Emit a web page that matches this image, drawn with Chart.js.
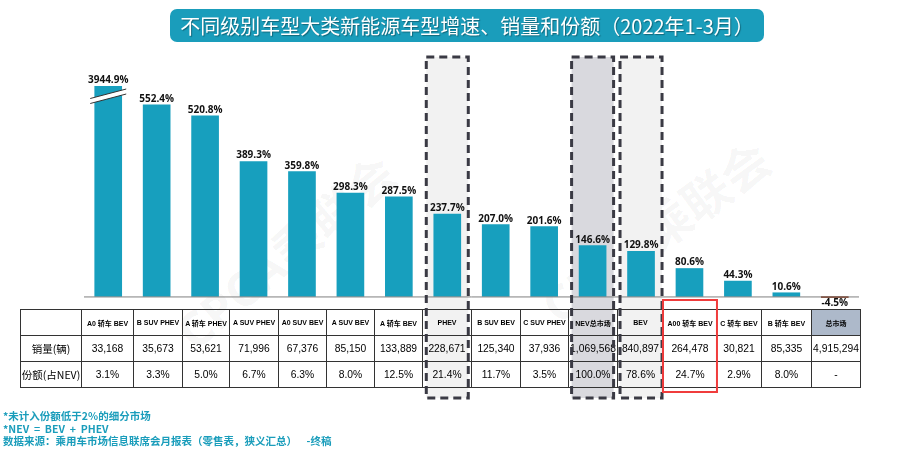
<!DOCTYPE html>
<html>
<head>
<meta charset="utf-8">
<script src="https://cdn.jsdelivr.net/npm/chart.js@4.4.1/dist/chart.umd.min.js"></script>
<style>
  body { margin: 0; background: #fff; }
  #page { position: relative; width: 920px; height: 453px; overflow: hidden; font-family: "Liberation Sans", "Noto Sans CJK SC", sans-serif; }
  #wm { position: absolute; left: 0; top: 0; width: 920px; height: 453px; z-index: 0; }
  .wmtext { position: absolute; font: bold 48px "Open Sans", "Noto Sans CJK SC", sans-serif; color: rgba(0,0,0,0.045); white-space: nowrap; transform-origin: center center; }
  #chart { position: absolute; left: 0; top: 0; z-index: 1; }
  #title { position: absolute; left: 170px; top: 9px; width: 594px; height: 33px; border-radius: 7px; background: #1a9dbb; color: #fff;
           font: 20px "Noto Sans CJK SC", sans-serif; line-height: 33px; text-align: center; text-shadow: 1px 1px 1px rgba(0,0,0,0.35); z-index: 3; }
  #tbl { position: absolute; left: 20px; top: 309px; width: 840px; border-collapse: collapse; table-layout: fixed; z-index: 2; background: transparent; }
  #tbl td { border: 1px solid #333; text-align: center; padding: 0; color: #000; overflow: hidden; white-space: nowrap; }
  #tbl tr.head td { height: 25px; font: bold 7px "Liberation Sans", "Noto Sans CJK SC", sans-serif; }
  #tbl tr.vals td { height: 25px; font: 10.3px "Liberation Sans", "Noto Sans CJK SC", sans-serif; }
  #tbl td.rowlab { font: 10.5px "Noto Sans CJK SC", sans-serif !important; }
  #tbl td.total { background: #adb9ca; }
  #boxes { position: absolute; left: 0; top: 0; z-index: 4; pointer-events: none; }
  #notes { position: absolute; left: 3px; top: 410px; font: bold 10.5px "Noto Sans CJK SC", sans-serif; line-height: 12.5px; color: #1a9dbb; z-index: 3; white-space: nowrap; }
</style>
</head>
<body>
<div id="page">
  <div id="wm">
    <div class="wmtext" style="left:150px; top:215px; transform: rotate(-40deg);">CPCA乘联会</div>
    <div class="wmtext" style="left:520px; top:195px; transform: rotate(-36deg);">CPCA乘联会</div>
  </div>
  <canvas id="chart" width="920" height="453"></canvas>
  <div id="title">不同级别车型大类新能源车型增速、销量和份额（2022年1-3月）</div>
  <table id="tbl"></table>
  <svg id="boxes" width="920" height="453"></svg>
  <div id="notes">
    *未计入份额低于2%的细分市场<br>
    *NEV &nbsp;= &nbsp;BEV &nbsp;+ &nbsp;PHEV<br>
    数据来源：乘用车市场信息联席会月报表（零售表，狭义汇总）&nbsp;&nbsp;&nbsp;&nbsp;-终稿
  </div>
</div>

<script>
// categories (table header)
const categories = ["A0 轿车 BEV", "B SUV PHEV", "A 轿车 PHEV", "A SUV PHEV", "A0 SUV BEV", "A SUV BEV", "A 轿车 BEV",
  "PHEV", "B SUV BEV", "C SUV PHEV", "NEV总市场", "BEV", "A00 轿车 BEV", "C 轿车 BEV", "B 轿车 BEV", "总市场"]

// growth rate, %
const growthRates = [3944.9, 552.4, 520.8, 389.3, 359.8, 298.3, 287.5, 237.7, 207.0, 201.6, 146.6, 129.8, 80.6, 44.3, 10.6, -4.5]

// sales volume (辆)
const salesVolume = [33168, 35673, 53621, 71996, 67376, 85150, 133889, 228671, 125340, 37936, 1069568, 840897, 264478, 30821, 85335, 4915294]

// share of NEV, % (null = no value)
const nevShare = [3.1, 3.3, 5.0, 6.7, 6.3, 8.0, 12.5, 21.4, 11.7, 3.5, 100.0, 78.6, 24.7, 2.9, 8.0, null]

const rowLabels = ["销量(辆)", "份额(占NEV)"]

// highlighted columns
const dashedCols = { "PHEV": "#f2f2f2", "NEV总市场": "#d9d9de", "BEV": "#f2f2f2" }
const redCol = "A00 轿车 BEV"
const totalCol = "总市场"

const colWidths = [61, 52, 49, 47, 49, 48, 48, 48, 49, 49, 48, 49, 46, 53, 45, 50, 49]
const boxTop = 57
const boxBottom = 398

// build table
const tbl = document.getElementById("tbl")
let html = "<colgroup>" + colWidths.map(w => '<col style="width:' + w + 'px">').join("") + "</colgroup>"
html += '<tr class="head"><td></td>' + categories.map(c => '<td' + (c == totalCol ? ' class="total"' : '') + '>' + c + '</td>').join("") + "</tr>"
html += '<tr class="vals"><td class="rowlab">' + rowLabels[0] + '</td>' + salesVolume.map(v => "<td>" + v.toLocaleString("en-US") + "</td>").join("") + "</tr>"
html += '<tr class="vals"><td class="rowlab">' + rowLabels[1] + '</td>' + nevShare.map(v => "<td>" + (v == null ? "-" : v.toFixed(1) + "%") + "</td>").join("") + "</tr>"
tbl.innerHTML = html

const BAR_COLOR = "#179fbe"
const NEG_COLOR = "#8b3a1e"

// gray column fills behind bars and table
const columnFills = {
  id: "columnFills",
  beforeDatasetsDraw(chart) {
    const ctx = chart.ctx
    const x = chart.scales.x
    ctx.save()
    categories.forEach((c, i) => {
      if (dashedCols[c]) {
        const cx = x.getPixelForValue(i)
        ctx.fillStyle = dashedCols[c]
        ctx.fillRect(cx - 21, boxTop, 42, boxBottom - boxTop)
      }
    })
    ctx.restore()
  }
}

// value labels, zero line, axis break
const labelsAndAxis = {
  id: "labelsAndAxis",
  afterDatasetsDraw(chart) {
    const ctx = chart.ctx
    const area = chart.chartArea
    const y0 = chart.scales.y.getPixelForValue(0)
    const meta = chart.getDatasetMeta(0)

    ctx.save()
    ctx.strokeStyle = "#7f7f7f"
    ctx.lineWidth = 1
    ctx.beginPath()
    ctx.moveTo(area.left, y0 + 0.5)
    ctx.lineTo(area.right, y0 + 0.5)
    ctx.stroke()

    ctx.font = "bold 10px 'Open Sans', sans-serif"
    ctx.fillStyle = "#111"
    ctx.textAlign = "center"
    meta.data.forEach((bar, i) => {
      const v = growthRates[i]
      const txt = v.toFixed(1) + "%"
      if (v >= 0) {
        ctx.textBaseline = "alphabetic"
        ctx.fillText(txt, bar.x, Math.max(bar.y, area.top) - 3)
      } else {
        ctx.textBaseline = "top"
        ctx.fillText(txt, bar.x, bar.y + 0.5)
      }
    })

    // break mark on clipped bar
    meta.data.forEach((bar, i) => {
      if (chart.scales.y.getPixelForValue(growthRates[i]) < area.top) {
        const l = bar.x - 18, r = bar.x + 18
        const t = area.top
        ctx.fillStyle = "#fff"
        ctx.beginPath()
        ctx.moveTo(l, t + 12.5)
        ctx.lineTo(r, t + 3)
        ctx.lineTo(r, t + 8)
        ctx.lineTo(l, t + 17.5)
        ctx.closePath()
        ctx.fill()
        ctx.strokeStyle = "#333"
        ctx.lineWidth = 1
        ctx.beginPath()
        ctx.moveTo(l, t + 12.5); ctx.lineTo(r, t + 3)
        ctx.moveTo(l, t + 17.5); ctx.lineTo(r, t + 8)
        ctx.stroke()
      }
    })
    ctx.restore()
  }
}

const chart = new Chart(document.getElementById("chart"), {
  type: "bar",
  data: {
    labels: categories,
    datasets: [{
      data: growthRates,
      backgroundColor: growthRates.map(v => v < 0 ? NEG_COLOR : BAR_COLOR),
      barThickness: 27,
      borderWidth: 0
    }]
  },
  options: {
    responsive: false,
    animation: false,
    devicePixelRatio: 1,
    layout: { padding: { left: 84, right: 61, top: 86, bottom: 155 } },
    scales: {
      x: { display: false },
      y: { display: false, min: -4.5, max: 607 }
    },
    plugins: { legend: { display: false }, tooltip: { enabled: false } }
  },
  plugins: [columnFills, labelsAndAxis]
})

// dashed and red outlines above the table
const svg = document.getElementById("boxes")
let shapes = ""
categories.forEach((c, i) => {
  const cx = chart.scales.x.getPixelForValue(i)
  if (dashedCols[c]) {
    shapes += '<rect x="' + (cx - 21) + '" y="' + boxTop + '" width="42" height="' + (boxBottom - boxTop) +
      '" fill="none" stroke="#3a3a44" stroke-width="3" stroke-dasharray="8 5"/>'
  }
  if (c == redCol) {
    shapes += '<rect x="' + (cx - 26.5) + '" y="300" width="54" height="92" fill="none" stroke="#f03c3c" stroke-width="2"/>'
  }
})
svg.innerHTML = shapes
</script>
</body>
</html>
